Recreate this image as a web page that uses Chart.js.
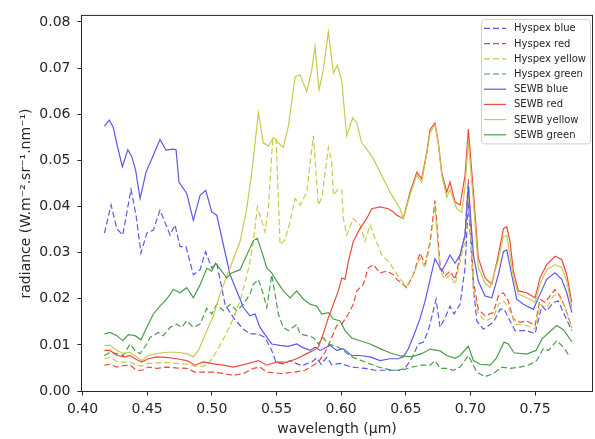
<!DOCTYPE html>
<html><head><meta charset="utf-8">
<script src="https://cdn.jsdelivr.net/npm/chart.js@4/dist/chart.umd.min.js"></script>
<style>html,body{margin:0;padding:0;background:#fff}canvas{display:block}</style>
</head><body>
<canvas id="c" width="595" height="439"></canvas>
<script>
// ---- data (wavelength in µm, radiance in W.m-2.sr-1.nm-1) ----
const xTickValues = [0.40,0.45,0.50,0.55,0.60,0.65,0.70,0.75];
const yTickValues = [0.00,0.01,0.02,0.03,0.04,0.05,0.06,0.07,0.08];
const seriesLabels = ['Hyspex blue','Hyspex red','Hyspex yellow','Hyspex green','SEWB blue','SEWB red','SEWB yellow','SEWB green'];

const hyspexBlueWl = [0.4169,0.4221,0.4265,0.4311,0.4375,0.4414,0.4452,0.4497,0.4548,0.4599,0.4646,0.4677,0.4715,0.4754,0.4800,0.4857,0.4909,0.4951,0.4999,0.5038,0.5102,0.5166,0.5244,0.5295,0.5357,0.5411,0.5463,0.5497,0.5553,0.5605,0.5651,0.5695,0.5773,0.5811,0.5845,0.5889,0.5927,0.5992,0.6082,0.6185,0.6262,0.6365,0.6442,0.6494,0.6546,0.6597,0.6636,0.6674,0.6713,0.6734,0.6765,0.6804,0.6842,0.6873,0.6920,0.6958,0.6984,0.7023,0.7049,0.7100,0.7177,0.7229,0.7260,0.7306,0.7345,0.7435,0.7500,0.7552,0.7590,0.7641,0.7680,0.7719,0.7784];
const hyspexBlueVal = [0.0342,0.0403,0.0352,0.0338,0.0437,0.0381,0.0299,0.0342,0.0349,0.0392,0.0360,0.0338,0.0360,0.0313,0.0313,0.0252,0.0263,0.0302,0.0267,0.0277,0.0188,0.0159,0.0134,0.0124,0.0124,0.0116,0.0088,0.0062,0.0059,0.0066,0.0060,0.0055,0.0063,0.0072,0.0058,0.0073,0.0057,0.0060,0.0052,0.0049,0.0045,0.0045,0.0045,0.0049,0.0071,0.0102,0.0106,0.0131,0.0174,0.0199,0.0138,0.0159,0.0184,0.0167,0.0188,0.0267,0.0410,0.0224,0.0152,0.0134,0.0149,0.0177,0.0178,0.0152,0.0131,0.0131,0.0124,0.0184,0.0174,0.0192,0.0195,0.0170,0.0131];

const hyspexRedWl = [0.4169,0.4213,0.4265,0.4313,0.4367,0.4419,0.4460,0.4509,0.4574,0.4651,0.4723,0.4806,0.4870,0.4947,0.5009,0.5089,0.5166,0.5244,0.5321,0.5373,0.5425,0.5541,0.5644,0.5721,0.5785,0.5824,0.5876,0.5927,0.5966,0.6005,0.6056,0.6094,0.6121,0.6172,0.6210,0.6249,0.6301,0.6353,0.6404,0.6430,0.6469,0.6507,0.6558,0.6610,0.6649,0.6688,0.6726,0.6765,0.6804,0.6842,0.6881,0.6920,0.6958,0.6984,0.7023,0.7061,0.7113,0.7177,0.7216,0.7255,0.7293,0.7332,0.7384,0.7435,0.7500,0.7538,0.7577,0.7616,0.7654,0.7693,0.7732,0.7784];
const hyspexRedVal = [0.0056,0.0058,0.0052,0.0055,0.0056,0.0045,0.0045,0.0052,0.0049,0.0052,0.0050,0.0049,0.0041,0.0041,0.0041,0.0038,0.0034,0.0038,0.0049,0.0052,0.0041,0.0038,0.0041,0.0045,0.0056,0.0063,0.0084,0.0116,0.0142,0.0145,0.0167,0.0188,0.0217,0.0231,0.0267,0.0274,0.0256,0.0260,0.0252,0.0242,0.0234,0.0224,0.0252,0.0299,0.0274,0.0324,0.0413,0.0274,0.0249,0.0260,0.0242,0.0295,0.0338,0.0459,0.0238,0.0177,0.0163,0.0170,0.0206,0.0213,0.0195,0.0156,0.0149,0.0152,0.0142,0.0199,0.0192,0.0206,0.0220,0.0206,0.0181,0.0138];

const hyspexYellowWl = [0.4169,0.4213,0.4265,0.4313,0.4367,0.4419,0.4458,0.4509,0.4574,0.4651,0.4729,0.4806,0.4870,0.4934,0.4971,0.5009,0.5063,0.5115,0.5166,0.5218,0.5270,0.5295,0.5321,0.5352,0.5373,0.5411,0.5437,0.5471,0.5497,0.5528,0.5566,0.5605,0.5644,0.5682,0.5734,0.5785,0.5824,0.5852,0.5901,0.5927,0.5940,0.5978,0.6005,0.6017,0.6043,0.6094,0.6146,0.6185,0.6224,0.6262,0.6314,0.6378,0.6456,0.6507,0.6558,0.6610,0.6649,0.6688,0.6726,0.6765,0.6804,0.6842,0.6881,0.6920,0.6958,0.6984,0.7023,0.7061,0.7113,0.7177,0.7216,0.7255,0.7293,0.7345,0.7435,0.7500,0.7538,0.7590,0.7641,0.7680,0.7732,0.7784];
const hyspexYellowVal = [0.0070,0.0073,0.0064,0.0062,0.0064,0.0056,0.0054,0.0060,0.0061,0.0062,0.0060,0.0058,0.0054,0.0054,0.0058,0.0073,0.0099,0.0127,0.0157,0.0195,0.0249,0.0281,0.0324,0.0399,0.0381,0.0345,0.0395,0.0546,0.0546,0.0317,0.0328,0.0367,0.0417,0.0403,0.0431,0.0553,0.0403,0.0420,0.0528,0.0496,0.0424,0.0438,0.0435,0.0374,0.0338,0.0374,0.0360,0.0324,0.0360,0.0331,0.0295,0.0277,0.0242,0.0227,0.0252,0.0288,0.0267,0.0317,0.0399,0.0260,0.0242,0.0252,0.0231,0.0281,0.0324,0.0440,0.0224,0.0167,0.0152,0.0159,0.0188,0.0195,0.0182,0.0145,0.0142,0.0134,0.0188,0.0181,0.0206,0.0209,0.0181,0.0138];

const hyspexGreenWl = [0.4169,0.4213,0.4265,0.4316,0.4367,0.4406,0.4445,0.4497,0.4522,0.4586,0.4625,0.4677,0.4729,0.4767,0.4806,0.4857,0.4909,0.4961,0.4999,0.5038,0.5089,0.5141,0.5193,0.5244,0.5295,0.5321,0.5360,0.5398,0.5425,0.5463,0.5489,0.5514,0.5553,0.5592,0.5657,0.5682,0.5734,0.5785,0.5824,0.5860,0.5901,0.5978,0.6082,0.6185,0.6288,0.6391,0.6469,0.6546,0.6623,0.6688,0.6726,0.6765,0.6817,0.6868,0.6920,0.6984,0.7010,0.7049,0.7113,0.7177,0.7242,0.7306,0.7384,0.7448,0.7513,0.7564,0.7603,0.7667,0.7719,0.7770];
const hyspexGreenVal = [0.0077,0.0084,0.0081,0.0077,0.0102,0.0088,0.0081,0.0102,0.0116,0.0127,0.0120,0.0138,0.0145,0.0138,0.0152,0.0138,0.0145,0.0179,0.0167,0.0188,0.0174,0.0188,0.0174,0.0188,0.0210,0.0231,0.0242,0.0210,0.0181,0.0252,0.0210,0.0167,0.0138,0.0131,0.0144,0.0124,0.0120,0.0116,0.0102,0.0116,0.0102,0.0095,0.0074,0.0063,0.0052,0.0045,0.0045,0.0052,0.0056,0.0056,0.0066,0.0049,0.0049,0.0045,0.0052,0.0077,0.0063,0.0041,0.0031,0.0038,0.0052,0.0049,0.0052,0.0056,0.0066,0.0092,0.0088,0.0109,0.0095,0.0074];

const sewbBlueWl = [0.4169,0.4207,0.4238,0.4269,0.4308,0.4350,0.4381,0.4411,0.4445,0.4491,0.4535,0.4599,0.4646,0.4702,0.4723,0.4746,0.4806,0.4857,0.4909,0.4953,0.4999,0.5038,0.5089,0.5141,0.5193,0.5244,0.5295,0.5334,0.5373,0.5425,0.5463,0.5528,0.5589,0.5657,0.5705,0.5760,0.5798,0.5837,0.5914,0.5966,0.6015,0.6082,0.6146,0.6224,0.6301,0.6378,0.6442,0.6479,0.6517,0.6564,0.6610,0.6649,0.6688,0.6726,0.6778,0.6811,0.6842,0.6881,0.6920,0.6958,0.6984,0.7023,0.7061,0.7113,0.7165,0.7216,0.7255,0.7281,0.7319,0.7358,0.7409,0.7487,0.7538,0.7590,0.7654,0.7706,0.7745,0.7784];
const sewbBlueVal = [0.0574,0.0587,0.0571,0.0531,0.0486,0.0523,0.0508,0.0478,0.0417,0.0474,0.0503,0.0545,0.0522,0.0524,0.0523,0.0453,0.0428,0.0370,0.0424,0.0435,0.0388,0.0381,0.0317,0.0252,0.0217,0.0181,0.0163,0.0167,0.0138,0.0117,0.0102,0.0099,0.0097,0.0102,0.0094,0.0088,0.0095,0.0088,0.0099,0.0088,0.0092,0.0077,0.0077,0.0074,0.0066,0.0070,0.0070,0.0074,0.0090,0.0122,0.0157,0.0195,0.0242,0.0287,0.0260,0.0277,0.0295,0.0277,0.0295,0.0338,0.0445,0.0295,0.0238,0.0206,0.0202,0.0252,0.0302,0.0306,0.0252,0.0199,0.0188,0.0177,0.0210,0.0242,0.0256,0.0242,0.0213,0.0170];

const sewbRedWl = [0.4169,0.4213,0.4265,0.4329,0.4367,0.4406,0.4458,0.4509,0.4574,0.4646,0.4729,0.4806,0.4870,0.4934,0.5012,0.5089,0.5166,0.5270,0.5321,0.5360,0.5425,0.5502,0.5574,0.5657,0.5734,0.5785,0.5824,0.5862,0.5901,0.5940,0.5978,0.6005,0.6030,0.6056,0.6094,0.6146,0.6198,0.6237,0.6301,0.6365,0.6404,0.6430,0.6481,0.6533,0.6585,0.6623,0.6662,0.6688,0.6726,0.6752,0.6778,0.6817,0.6842,0.6881,0.6920,0.6958,0.6984,0.7023,0.7061,0.7113,0.7165,0.7216,0.7255,0.7281,0.7306,0.7332,0.7371,0.7435,0.7500,0.7538,0.7590,0.7654,0.7706,0.7745,0.7784];
const sewbRedVal = [0.0088,0.0088,0.0077,0.0074,0.0077,0.0070,0.0063,0.0070,0.0074,0.0073,0.0070,0.0066,0.0056,0.0063,0.0059,0.0056,0.0052,0.0059,0.0063,0.0066,0.0056,0.0063,0.0062,0.0070,0.0081,0.0088,0.0095,0.0124,0.0159,0.0188,0.0217,0.0245,0.0242,0.0281,0.0324,0.0352,0.0374,0.0395,0.0399,0.0395,0.0388,0.0381,0.0374,0.0431,0.0474,0.0460,0.0517,0.0567,0.0581,0.0538,0.0474,0.0431,0.0453,0.0410,0.0403,0.0467,0.0567,0.0431,0.0288,0.0245,0.0231,0.0295,0.0352,0.0356,0.0324,0.0260,0.0217,0.0213,0.0202,0.0245,0.0274,0.0292,0.0285,0.0252,0.0192];

const sewbYellowWl = [0.4169,0.4213,0.4265,0.4316,0.4367,0.4419,0.4458,0.4509,0.4574,0.4651,0.4729,0.4806,0.4857,0.4896,0.4934,0.4973,0.5012,0.5063,0.5141,0.5218,0.5270,0.5309,0.5360,0.5398,0.5437,0.5476,0.5514,0.5553,0.5592,0.5644,0.5682,0.5734,0.5773,0.5798,0.5829,0.5862,0.5901,0.5940,0.5971,0.6005,0.6043,0.6090,0.6121,0.6159,0.6198,0.6249,0.6314,0.6378,0.6456,0.6481,0.6533,0.6585,0.6623,0.6662,0.6688,0.6726,0.6752,0.6778,0.6817,0.6842,0.6894,0.6933,0.6958,0.6984,0.7023,0.7061,0.7113,0.7152,0.7216,0.7255,0.7281,0.7332,0.7371,0.7435,0.7500,0.7538,0.7590,0.7654,0.7706,0.7745,0.7784];
const sewbYellowVal = [0.0099,0.0099,0.0088,0.0081,0.0084,0.0074,0.0066,0.0077,0.0081,0.0084,0.0084,0.0081,0.0074,0.0088,0.0113,0.0138,0.0163,0.0210,0.0267,0.0324,0.0395,0.0474,0.0603,0.0538,0.0531,0.0549,0.0538,0.0528,0.0574,0.0681,0.0685,0.0649,0.0696,0.0746,0.0653,0.0696,0.0778,0.0689,0.0706,0.0671,0.0553,0.0592,0.0581,0.0538,0.0524,0.0503,0.0467,0.0431,0.0395,0.0374,0.0425,0.0468,0.0453,0.0513,0.0560,0.0577,0.0534,0.0468,0.0420,0.0437,0.0395,0.0388,0.0442,0.0542,0.0410,0.0267,0.0234,0.0224,0.0285,0.0335,0.0337,0.0245,0.0210,0.0202,0.0192,0.0232,0.0263,0.0274,0.0268,0.0238,0.0181];

const sewbGreenWl = [0.4169,0.4213,0.4265,0.4311,0.4354,0.4406,0.4452,0.4497,0.4548,0.4599,0.4651,0.4702,0.4754,0.4806,0.4857,0.4909,0.4961,0.4999,0.5029,0.5077,0.5115,0.5154,0.5218,0.5282,0.5321,0.5352,0.5386,0.5425,0.5463,0.5502,0.5553,0.5605,0.5657,0.5708,0.5760,0.5811,0.5850,0.5901,0.5940,0.5992,0.6030,0.6082,0.6146,0.6224,0.6301,0.6378,0.6456,0.6546,0.6623,0.6688,0.6765,0.6817,0.6881,0.6920,0.6984,0.7023,0.7074,0.7152,0.7198,0.7260,0.7293,0.7337,0.7435,0.7507,0.7554,0.7616,0.7667,0.7719,0.7784];
const sewbGreenVal = [0.0124,0.0127,0.0120,0.0109,0.0122,0.0120,0.0111,0.0138,0.0167,0.0184,0.0199,0.0220,0.0213,0.0224,0.0202,0.0230,0.0266,0.0260,0.0277,0.0260,0.0245,0.0256,0.0263,0.0302,0.0326,0.0331,0.0302,0.0267,0.0256,0.0238,0.0217,0.0202,0.0217,0.0199,0.0188,0.0184,0.0167,0.0170,0.0156,0.0152,0.0131,0.0115,0.0109,0.0102,0.0092,0.0083,0.0076,0.0074,0.0081,0.0091,0.0087,0.0077,0.0071,0.0077,0.0097,0.0066,0.0058,0.0056,0.0070,0.0106,0.0102,0.0083,0.0080,0.0088,0.0113,0.0129,0.0142,0.0133,0.0107];

// ---- styling ----
const COLORS = {blue:'#5a5aeb', red:'#ee4b3b', yellow:'#c9c94f', green:'#4d9d4d'};
const FONT = 'DejaVu Sans';
const TEXT = '#262626';

const seriesDefs = [
  [hyspexBlueWl, hyspexBlueVal, COLORS.blue, true],
  [hyspexRedWl, hyspexRedVal, COLORS.red, true],
  [hyspexYellowWl, hyspexYellowVal, COLORS.yellow, true],
  [hyspexGreenWl, hyspexGreenVal, COLORS.green, true],
  [sewbBlueWl, sewbBlueVal, COLORS.blue, false],
  [sewbRedWl, sewbRedVal, COLORS.red, false],
  [sewbYellowWl, sewbYellowVal, COLORS.yellow, false],
  [sewbGreenWl, sewbGreenVal, COLORS.green, false]
];
const DASH = [6, 3];

const datasets = seriesDefs.map(([wl, val, color, dashed], i) => {
  const n = Math.min(wl.length, val.length);
  const pts = [];
  for (let k = 0; k < n; k++) pts.push({x: wl[k], y: val[k]});
  return {
    label: seriesLabels[i], data: pts, borderColor: color, backgroundColor: color,
    borderWidth: 1.2, borderDash: dashed ? DASH : [], pointRadius: 0, pointHoverRadius: 0,
    fill: false, tension: 0, order: seriesDefs.length - i
  };
});

const framePlugin = {
  id: 'frame',
  afterDraw(chart) {
    const {ctx, chartArea: a} = chart;
    ctx.save();
    ctx.strokeStyle = TEXT; ctx.lineWidth = 1;
    ctx.strokeRect(a.left, a.top, a.right - a.left, a.bottom - a.top);
    // legend box, upper right inside the axes
    const bx = a.right - 111, by = a.top + 4, bw = 109, bh = 124.5;
    ctx.beginPath();
    if (ctx.roundRect) ctx.roundRect(bx, by, bw, bh, 3); else ctx.rect(bx, by, bw, bh);
    ctx.fillStyle = 'rgba(255,255,255,0.85)'; ctx.fill();
    ctx.strokeStyle = '#d0d0d0'; ctx.stroke();
    ctx.font = '10px "' + FONT + '"';
    ctx.textBaseline = 'middle'; ctx.textAlign = 'left';
    chart.data.datasets.forEach((ds, i) => {
      const y = by + 9 + i * 15.2;
      ctx.beginPath();
      ctx.setLineDash(ds.borderDash || []);
      ctx.strokeStyle = ds.borderColor; ctx.lineWidth = 1.2;
      ctx.moveTo(bx + 2.5, y); ctx.lineTo(bx + 24.5, y); ctx.stroke();
      ctx.setLineDash([]);
      ctx.fillStyle = TEXT;
      ctx.fillText(ds.label, bx + 32.5, y + 0.5);
    });
    ctx.restore();
  }
};

new Chart(document.getElementById('c'), {
  type: 'line',
  data: {datasets},
  options: {
    responsive: false, animation: false, devicePixelRatio: 1,
    layout: {padding: {top: 11.5, right: 2.5, left: 0, bottom: 0}},
    plugins: {legend: {display: false}, tooltip: {enabled: false}},
    events: [],
    scales: {
      x: {
        type: 'linear', min: 0.3992, max: 0.7944,
        afterBuildTicks: s => { s.ticks = xTickValues.map(v => ({value: v})); },
        afterFit: s => { s.height = 47.5; },
        ticks: {font: {family: FONT, size: 14}, color: TEXT, padding: 5, maxRotation: 0, autoSkip: false,
                callback: v => Number(v).toFixed(2)},
        grid: {drawOnChartArea: false, drawTicks: true, tickLength: 4, color: TEXT},
        border: {display: false},
        title: {display: true, text: 'wavelength (μm)', font: {family: FONT, size: 14}, color: TEXT,
                padding: {top: 0, bottom: 1}}
      },
      y: {
        type: 'linear', min: -0.0001, max: 0.0814,
        afterBuildTicks: s => { s.ticks = yTickValues.map(v => ({value: v})); },
        afterFit: s => { s.width = 81.5; },
        ticks: {font: {family: FONT, size: 14}, color: TEXT, padding: 7, autoSkip: false,
                callback: v => Number(v).toFixed(2)},
        grid: {drawOnChartArea: false, drawTicks: true, tickLength: 4, color: TEXT},
        border: {display: false},
        title: {display: true, text: 'radiance (W.m⁻².sr⁻¹.nm⁻¹)', font: {family: FONT, size: 14}, color: TEXT,
                padding: {top: 18, bottom: 0}}
      }
    }
  },
  plugins: [framePlugin]
});
</script>
</body></html>
